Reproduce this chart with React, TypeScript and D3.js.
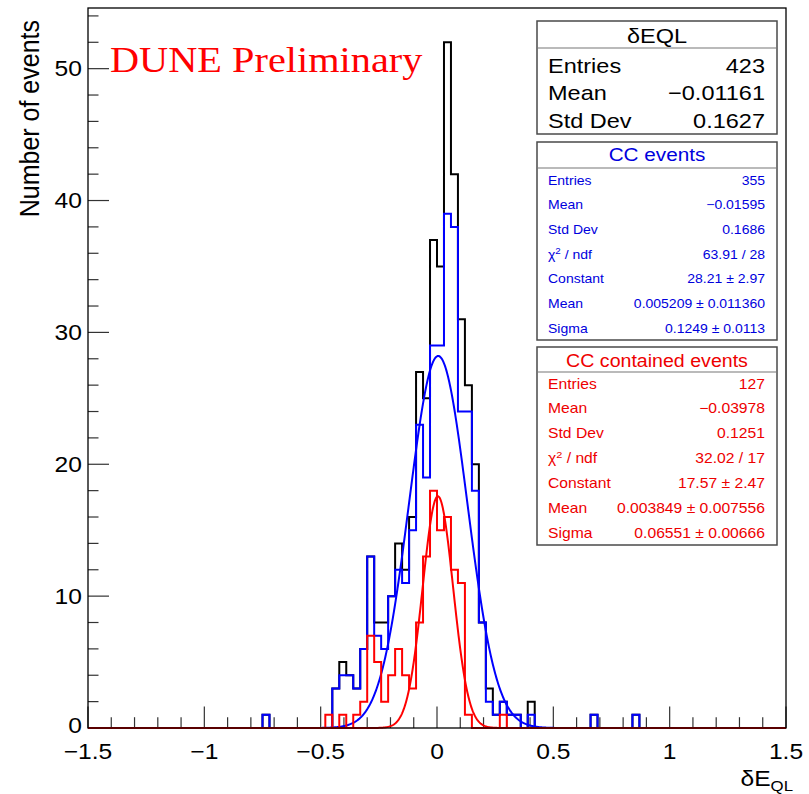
import React from "react";
import * as d3 from "d3";

// histogram binning: 100 bins of 0.03 over [-1.5, 1.5]
const X_MIN = -1.5;
const X_MAX = 1.5;
const BIN_WIDTH = 0.03;
const FIRST_EDGE = -0.48; // low edge of the first bin in the count lists below

const totalCounts = [0, 3, 5, 4, 3, 6, 13, 8, 8, 10, 14, 12, 16, 27, 25, 37, 35, 52, 42, 31, 26, 20, 8, 3, 1, 2, 1, 1, 0, 2];
const ccCounts = [0, 3, 4, 4, 3, 6, 13, 7, 6, 10, 12, 11, 15, 23, 19, 29, 29, 39, 38, 24, 24, 18, 8, 2, 1, 2, 1, 1, 0, 1];
const containedCounts = [1, 0, 1, 0, 1, 2, 7, 5, 2, 4, 6, 4, 3, 8, 13, 18, 15, 16, 12, 11, 1, 0, 0, 0, 0, 1, 0, 0, 0, 0];
// single CC events far from the peak (low bin edges)
const ccOutliers = [-0.75, 0.66, 0.84];

// gaussian fits: constant, mean, sigma
const ccFit = [28.21, 0.005209, 0.1249];
const containedFit = [17.57, 0.003849, 0.06551];

const xTicks = [-1.5, -1, -0.5, 0, 0.5, 1, 1.5];
const yTicks = [0, 10, 20, 30, 40, 50];

const totalStats = [
  ["Entries", "423"],
  ["Mean", "\u22120.01161"],
  ["Std Dev", "0.1627"],
];
const ccStats = [
  ["Entries", "355"],
  ["Mean", "\u22120.01595"],
  ["Std Dev", "0.1686"],
  ["chi2", "63.91 / 28"],
  ["Constant", "28.21 \u00b1 2.97"],
  ["Mean", "0.005209 \u00b1 0.011360"],
  ["Sigma", "0.1249 \u00b1 0.0113"],
];
const containedStats = [
  ["Entries", "127"],
  ["Mean", "\u22120.03978"],
  ["Std Dev", "0.1251"],
  ["chi2", "32.02 / 17"],
  ["Constant", "17.57 \u00b1 2.47"],
  ["Mean", "0.003849 \u00b1 0.007556"],
  ["Sigma", "0.06551 \u00b1 0.00666"],
];

const W = 809;
const H = 794;
const frame = { left: 88, right: 786, top: 8, bottom: 728 };
const SX = 1.12; // the picture is slightly stretched sideways
const SANS = "'Liberation Sans', Arial, Helvetica, sans-serif";

const x = d3.scaleLinear().domain([X_MIN, X_MAX]).range([frame.left, frame.right]);
const y = d3.scaleLinear().domain([0, 54.6]).range([frame.bottom, frame.top]);

function fullBins(counts: number[], extra: number[] = []) {
  const n = Math.round((X_MAX - X_MIN) / BIN_WIDTH);
  const bins = new Array(n).fill(0);
  const start = Math.round((FIRST_EDGE - X_MIN) / BIN_WIDTH);
  counts.forEach((c, i) => (bins[start + i] += c));
  extra.forEach((e) => (bins[Math.round((e - X_MIN) / BIN_WIDTH)] += 1));
  return bins;
}

const line = d3
  .line<[number, number]>()
  .x((d) => x(d[0]))
  .y((d) => y(d[1]));

function stepPath(bins: number[]) {
  const pts: [number, number][] = [[X_MIN, 0]];
  bins.forEach((c, i) => {
    const lo = X_MIN + i * BIN_WIDTH;
    pts.push([lo, c], [lo + BIN_WIDTH, c]);
  });
  pts.push([X_MAX, 0]);
  return line(pts) || "";
}

function gausPath(p: number[]) {
  const pts: [number, number][] = d3
    .range(0, 1201)
    .map((i) => {
      const v = X_MIN + (i * (X_MAX - X_MIN)) / 1200;
      return [v, p[0] * Math.exp(-0.5 * ((v - p[1]) / p[2]) ** 2)];
    });
  return line(pts) || "";
}

const T = ({ x: tx, y: ty, size, anchor = "start", fill = "#000", family = SANS, children }: any) => (
  <text
    transform={`translate(${tx},${ty}) scale(${SX},1)`}
    fontSize={size}
    textAnchor={anchor}
    fill={fill}
    fontFamily={family}
  >
    {children}
  </text>
);

const label = (name: string) =>
  name === "chi2" ? (
    <>
      {"\u03c7"}
      <tspan dy={-5} fontSize="0.7em">2</tspan>
      <tspan dy={5}>{" / ndf"}</tspan>
    </>
  ) : (
    name
  );

function StatBox({ top, height, title, rows, color, titleSize, rowSize, titleY, sepY, rowY0, rowStep }: any) {
  const left = 537;
  const right = 777;
  return (
    <g>
      <rect x={left} y={top} width={right - left} height={height} fill="#fff" stroke="#4a4a4a" strokeWidth={1.5} />
      <line x1={left} x2={right} y1={sepY} y2={sepY} stroke="#777" strokeWidth={1.2} />
      <T x={(left + right) / 2} y={titleY} size={titleSize} anchor="middle" fill={color}>
        {title}
      </T>
      {rows.map((r: string[], i: number) => (
        <g key={i}>
          <T x={548} y={rowY0 + i * rowStep} size={rowSize} fill={color}>
            {label(r[0])}
          </T>
          <T x={765} y={rowY0 + i * rowStep} size={rowSize} anchor="end" fill={color}>
            {r[1]}
          </T>
        </g>
      ))}
    </g>
  );
}

export default function App() {
  const total = fullBins(totalCounts, ccOutliers);
  const cc = fullBins(ccCounts, ccOutliers);
  const contained = fullBins(containedCounts);

  const xMinor = d3.range(-15, 16).map((i) => i / 10);
  const yMinor = d3.range(0, 55, 2);

  return (
    <svg
      width={W}
      height={H}
      style={{ position: "absolute", left: 0, top: 0, background: "#fff" }}
    >
      <rect width={W} height={H} fill="#fff" />

      {/* ticks */}
      {xMinor.map((v, i) => {
        const major = xTicks.some((t) => Math.abs(t - v) < 1e-6);
        return (
          <line key={"xt" + i} x1={x(v)} x2={x(v)} y1={frame.bottom} y2={frame.bottom - (major ? 21.6 : 10.8)} stroke="#333" strokeWidth={1.2} />
        );
      })}
      {yMinor.map((v, i) => {
        const major = v % 10 === 0;
        return (
          <line key={"yt" + i} x1={frame.left} x2={frame.left + (major ? 21 : 10.5)} y1={y(v)} y2={y(v)} stroke="#333" strokeWidth={1.2} />
        );
      })}

      {/* histograms and fits */}
      <path d={stepPath(total)} fill="none" stroke="#000" strokeWidth={2} />
      <path d={stepPath(cc)} fill="none" stroke="#0000ff" strokeWidth={2} />
      <path d={gausPath(ccFit)} fill="none" stroke="#0000ff" strokeWidth={2} />
      <path d={stepPath(contained)} fill="none" stroke="#ff0000" strokeWidth={2} />
      <path d={gausPath(containedFit)} fill="none" stroke="#ff0000" strokeWidth={2} />

      {/* frame */}
      <rect
        x={frame.left}
        y={frame.top}
        width={frame.right - frame.left}
        height={frame.bottom - frame.top}
        fill="none"
        stroke="#000"
        strokeWidth={1.3}
      />

      {/* axis labels */}
      {xTicks.map((v) => (
        <T key={"xl" + v} x={x(v)} y={759} size={22} anchor="middle">
          {v < 0 ? "\u2212" + Math.abs(v) : String(v)}
        </T>
      ))}
      {yTicks.map((v) => (
        <T key={"yl" + v} x={82} y={y(v) + (v === 0 ? 5 : 7.5)} size={22} anchor="end">
          {String(v)}
        </T>
      ))}
      <T x={793} y={786} size={22} anchor="end">
        {"\u03b4E"}
        <tspan fontSize={15} dy={5}>QL</tspan>
      </T>
      <text
        transform={`translate(39,20) rotate(-90) scale(1,${SX})`}
        fontSize={25}
        textAnchor="end"
        fontFamily={SANS}
        fill="#000"
      >
        Number of events
      </text>

      <T x={110} y={72} size={36} fill="#ff0000" family="'Liberation Serif', 'Times New Roman', serif">
        DUNE Preliminary
      </T>

      <StatBox
        top={21}
        height={113}
        title="δEQL"
        rows={totalStats}
        color="#000"
        titleSize={21}
        rowSize={21}
        titleY={43}
        sepY={48}
        rowY0={72.5}
        rowStep={27.6}
      />
      <StatBox
        top={142}
        height={198}
        title="CC events"
        rows={ccStats}
        color="#0000dd"
        titleSize={18.5}
        rowSize={12.5}
        titleY={161}
        sepY={168}
        rowY0={184.5}
        rowStep={24.7}
      />
      <StatBox
        top={347}
        height={198}
        title="CC contained events"
        rows={containedStats}
        color="#ee0000"
        titleSize={17.5}
        rowSize={14}
        titleY={367}
        sepY={372}
        rowY0={388.5}
        rowStep={24.85}
      />
    </svg>
  );
}
